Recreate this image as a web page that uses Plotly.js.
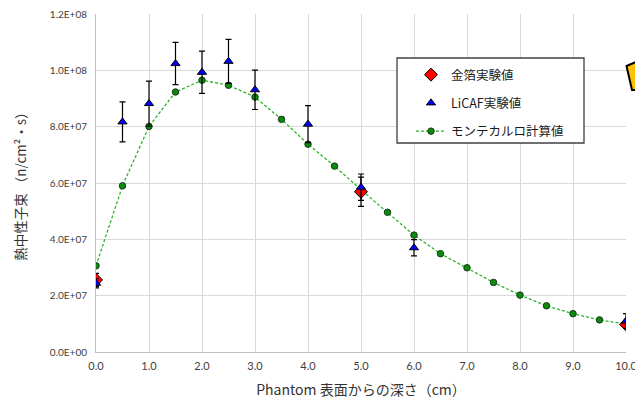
<!DOCTYPE html>
<html>
<head>
<meta charset="utf-8">
<script src="https://cdn.plot.ly/plotly-3.0.1.min.js"></script>
<style>
  html, body { margin: 0; padding: 0; background: #ffffff; }
  #chart { width: 635px; height: 405px; }
</style>
</head>
<body>
<div id="chart"></div>
<script>
// Monte Carlo calculation (every 0.5 cm)
const depthMC = [0, 0.5, 1.0, 1.5, 2.0, 2.5, 3.0, 3.5, 4.0, 4.5, 5.0,
                 5.5, 6.0, 6.5, 7.0, 7.5, 8.0, 8.5, 9.0, 9.5, 10.0];
const fluxMC = [3.06e7, 5.90e7, 8.01e7, 9.23e7, 9.65e7, 9.47e7, 9.05e7, 8.26e7, 7.38e7, 6.60e7, 5.76e7,
                4.96e7, 4.15e7, 3.49e7, 2.99e7, 2.47e7, 2.02e7, 1.64e7, 1.36e7, 1.14e7, 0.99e7];

// Gold foil activation measurements
const depthGold = [0, 5.0, 10.0];
const fluxGold = [2.56e7, 5.69e7, 0.98e7];
const errGold = [0.23e7, 0.52e7, 0];

// LiCAF detector measurements
const depthLiCAF = [0, 0.5, 1.0, 1.5, 2.0, 2.5, 3.0, 4.0, 5.0, 6.0, 10.0];
const fluxLiCAF = [2.44e7, 8.17e7, 8.82e7, 1.024e8, 9.93e7, 1.032e8, 9.31e7, 8.09e7, 5.85e7, 3.70e7, 1.10e7];
const errLiCAF = [0.16e7, 0.71e7, 0.80e7, 0.75e7, 0.75e7, 0.78e7, 0.70e7, 0.66e7, 0.47e7, 0.29e7, 0.26e7];

// Axis ticks
const yTickVals = [0, 2e7, 4e7, 6e7, 8e7, 1e8, 1.2e8];
const yTickText = ['0.0E+00', '2.0E+07', '4.0E+07', '6.0E+07', '8.0E+07', '1.0E+08', '1.2E+08'];

const seriesNames = ['金箔実験値', 'LiCAF実験値', 'モンテカルロ計算値'];

const W = 635, H = 405;
const M = {l: 96, r: 9, t: 14, b: 53};
const pw = W - M.l - M.r, ph = H - M.t - M.b;
// pixel -> paper helpers for the decorations
const px = v => (v - M.l) / pw;
const py = v => (H - M.b - v) / ph;

const traces = [
  {
    x: depthMC, y: fluxMC, name: seriesNames[2], type: 'scatter', mode: 'lines+markers',
    legendrank: 3, legendgroup: 'mc',
    line: {color: '#2ab52a', width: 1.3, dash: '3px,2px'},
    marker: {symbol: 'circle', size: 6.5, color: '#0a8a0a', line: {color: '#1a3a1a', width: 1}}
  },
  {
    x: depthGold, y: fluxGold, name: seriesNames[0], type: 'scatter', mode: 'markers',
    legendrank: 1, legendgroup: 'gold',
    error_y: {type: 'data', array: errGold, visible: true, color: '#000000', thickness: 1.2, width: 3},
    marker: {symbol: 'diamond', size: 10, color: '#ff0000', line: {color: '#000000', width: 1}}
  },
  {
    x: depthLiCAF, y: fluxLiCAF, name: seriesNames[1], type: 'scatter', mode: 'markers',
    legendrank: 2, legendgroup: 'licaf',
    error_y: {type: 'data', array: errLiCAF, visible: true, color: '#000000', thickness: 1.2, width: 3},
    marker: {symbol: 'triangle-up', size: 8, color: '#0000ff', line: {color: '#000000', width: 1}}
  }
];

const tickFont = {family: 'Lato, "Noto Sans CJK JP", sans-serif', size: 10, color: '#404040'};

const layout = {
  width: W, height: H,
  margin: M,
  paper_bgcolor: '#ffffff',
  plot_bgcolor: '#ffffff',
  showlegend: true,
  legend: {
    x: px(411), y: py(60), xanchor: 'left', yanchor: 'top',
    bgcolor: 'rgba(0,0,0,0)', borderwidth: 0,
    traceorder: 'grouped', tracegroupgap: 9,
    font: {family: '"Noto Sans CJK JP", sans-serif', size: 12.5, color: '#1a1a1a'}
  },
  xaxis: {
    range: [0, 10], dtick: 1, tickformat: '.1f',
    showgrid: true, gridcolor: '#d9d9d9', gridwidth: 1,
    showline: true, linecolor: '#bfbfbf', linewidth: 1,
    zeroline: false, ticks: '', ticklen: 0,
    ticklabeloverflow: 'allow', ticklabelstandoff: 4,
    tickfont: Object.assign({}, tickFont, {size: 11}),
    title: {text: 'Phantom 表面からの深さ（cm）', standoff: 13,
            font: {family: '"Noto Sans CJK JP", sans-serif', size: 14, color: '#333333'}}
  },
  yaxis: {
    range: [0, 1.2e8], tickvals: yTickVals, ticktext: yTickText,
    showgrid: true, gridcolor: '#d9d9d9', gridwidth: 1,
    showline: true, linecolor: '#bfbfbf', linewidth: 1,
    zeroline: false, ticks: '', ticklen: 0,
    ticklabelstandoff: 6,
    tickfont: tickFont,
    title: {text: '熱中性子束 （n/cm²・s）', standoff: 20,
            font: {family: '"Noto Sans CJK JP", sans-serif', size: 13.5, color: '#333333'}}
  },
  shapes: [
    // legend frame
    {type: 'rect', xref: 'paper', yref: 'paper', layer: 'above',
     x0: px(397), x1: px(584), y0: py(58), y1: py(143),
     fillcolor: '#ffffff', line: {color: '#404040', width: 1.3}},
    // corner of a neighbouring callout
    {type: 'path', xref: 'paper', yref: 'paper', layer: 'above',
     path: `M ${px(626.5)} ${py(66)} L ${px(636)} ${py(62)} L ${px(636)} ${py(90)} L ${px(632)} ${py(90)} Z`,
     fillcolor: '#ffc000', line: {color: '#000000', width: 2}}
  ]
};

Plotly.newPlot('chart', traces, layout, {staticPlot: true, displayModeBar: false});
</script>
</body>
</html>
